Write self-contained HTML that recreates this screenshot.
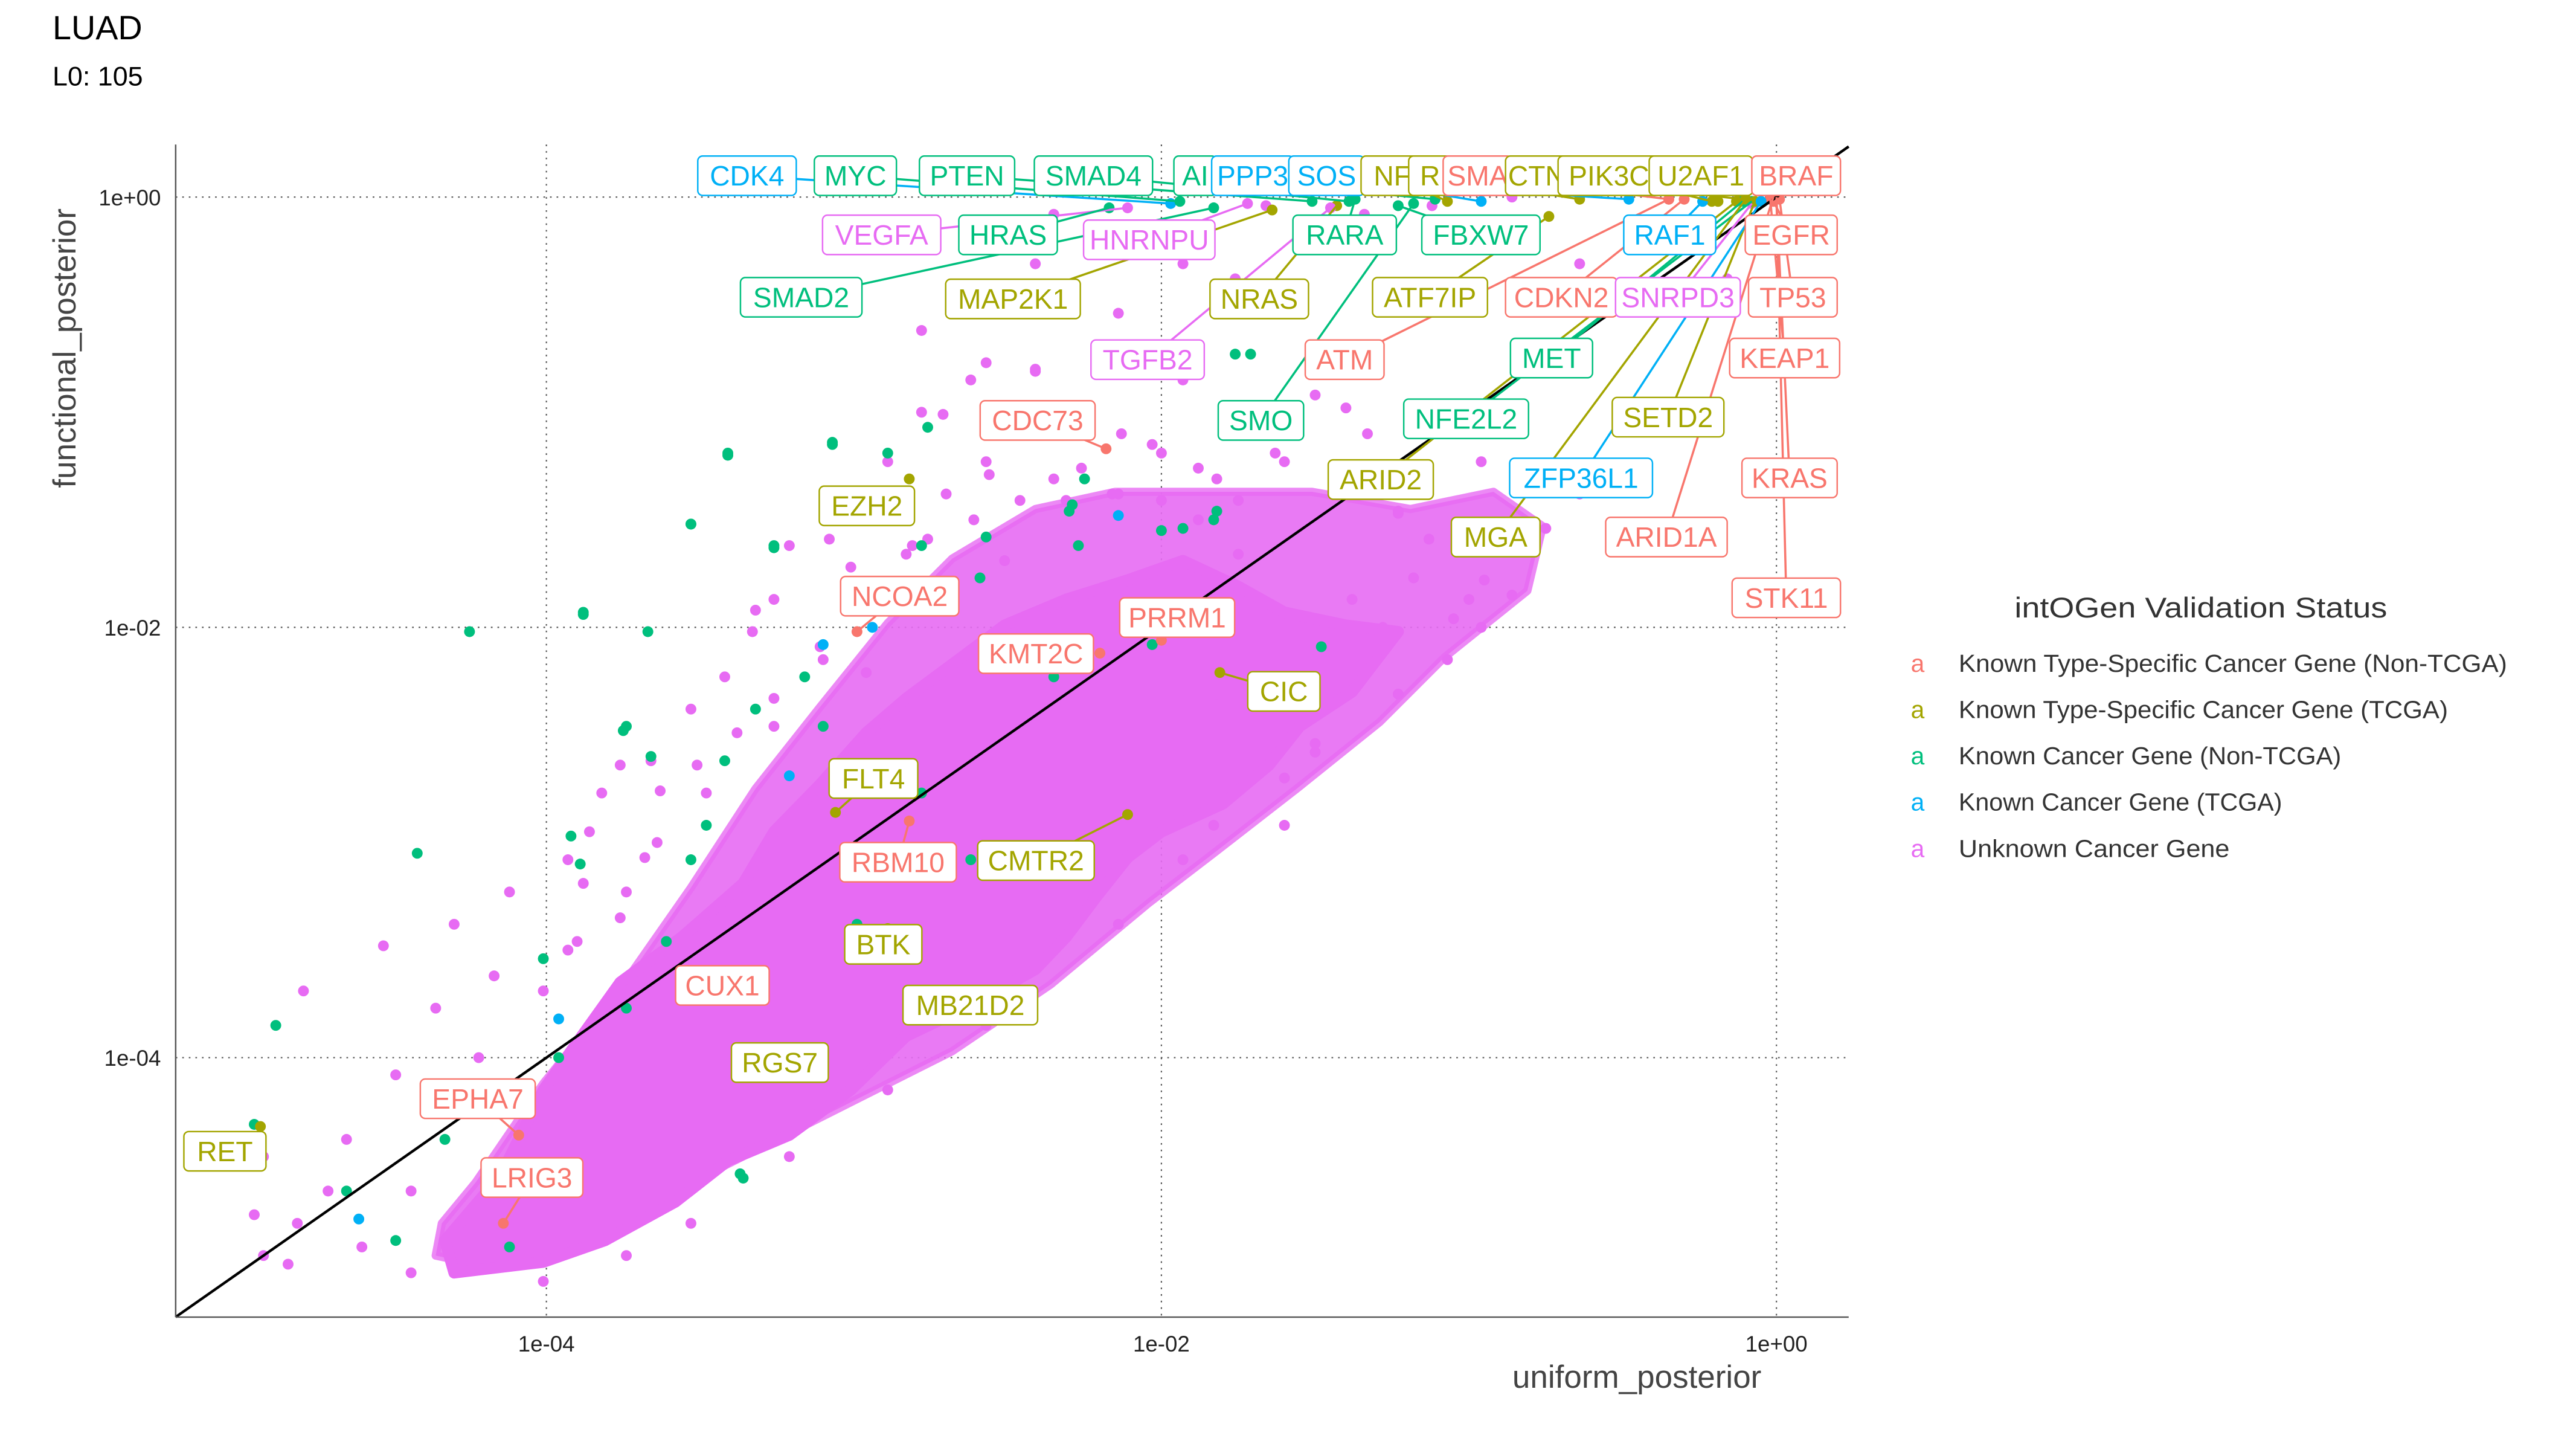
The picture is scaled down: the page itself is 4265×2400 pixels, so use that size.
<!DOCTYPE html>
<html><head><meta charset="utf-8">
<style>
html,body{margin:0;padding:0;background:#fff;}
svg{display:block;}
text{font-family:"Liberation Sans",sans-serif;}
.lg{font-family:"Liberation Sans Narrow","Liberation Sans",sans-serif;}
</style></head>
<body>
<svg id="chart" width="4265" height="2400" viewBox="0 0 1569 882.9" xmlns="http://www.w3.org/2000/svg">
  <rect x="0" y="0" width="1569" height="882.9" fill="#fff"/>
  <text x="32" y="24" font-size="20.5" fill="#000">LUAD</text>
  <text x="32" y="52" font-size="16.5" fill="#000">L0: 105</text>
  <g id="grid"></g>
  <g id="pts"></g>
  <line id="diag" stroke="#000" stroke-width="1.6"/>
  <g id="leaders"></g>
  <g id="labels"></g>
  <line x1="107" y1="88" x2="107" y2="802" stroke="#555" stroke-width="0.9"/>
  <line x1="107" y1="802" x2="1126" y2="802" stroke="#555" stroke-width="0.9"/>
  <g id="ticks"></g>
  <text transform="translate(46,212) rotate(-90)" text-anchor="middle" font-size="19.5" fill="#444" class="lg">functional_posterior</text>
  <text x="997" y="845" text-anchor="middle" font-size="19.5" fill="#444" class="lg">uniform_posterior</text>
  <g id="legend">
    <text x="1227" y="376" font-size="17.5" fill="#333" class="lg" textLength="227" lengthAdjust="spacingAndGlyphs">intOGen Validation Status</text>
  </g>
</svg>
<script>
// ---- data (log10 units) ----
const catColors = ["#F8766D","#A3A500","#00BF7D","#00B0F6","#E76BF3"];
const catNames = ["Known Type-Specific Cancer Gene (Non-TCGA)","Known Type-Specific Cancer Gene (TCGA)","Known Cancer Gene (Non-TCGA)","Known Cancer Gene (TCGA)","Unknown Cancer Gene"];
const xTickVals = [-4,-2,0];
const yTickVals = [0,-2,-4];
const xTickLabels = ["1e-04","1e-02","1e+00"];
const yTickLabels = ["1e+00","1e-02","1e-04"];
// outer (medium density) unknown-gene halo envelope
const haloX = [-4.23,-4.01,-3.75,-3.53,-3.32,-3.11,-2.89,-2.68,-2.41,-2.15,-1.83,-1.51,-1.19,-0.92,-0.76,-0.81,-1.08,-1.29,-1.56,-1.83,-2.04,-2.36,-2.68,-3.00,-3.32,-3.64,-3.96,-4.23,-4.36,-4.34];
const haloY = [-4.58,-4.12,-3.66,-3.21,-2.75,-2.37,-1.98,-1.68,-1.45,-1.37,-1.37,-1.37,-1.45,-1.37,-1.53,-1.83,-2.14,-2.44,-2.75,-3.05,-3.28,-3.66,-3.97,-4.20,-4.43,-4.66,-4.89,-4.96,-4.92,-4.77];
// dense unknown-gene core envelope
const cloudX = [-4.01,-3.76,-3.56,-3.36,-3.26,-3.11,-2.96,-2.83,-2.66,-2.51,-2.31,-2.11,-1.93,-1.75,-1.60,-1.40,-1.23,-1.38,-1.55,-1.65,-1.80,-2.00,-2.11,-2.21,-2.31,-2.41,-2.61,-2.83,-3.01,-3.21,-3.41,-3.58,-3.81,-4.01,-4.30,-4.33,-4.15];
const cloudY = [-4.15,-3.65,-3.44,-3.19,-2.95,-2.73,-2.49,-2.33,-2.15,-1.99,-1.87,-1.78,-1.69,-1.81,-1.93,-1.99,-2.02,-2.30,-2.46,-2.64,-2.82,-2.95,-3.07,-3.25,-3.44,-3.59,-3.75,-3.90,-4.15,-4.36,-4.48,-4.67,-4.85,-4.95,-5.00,-4.85,-4.55];
// unknown (magenta) scattered points
const unkX = [-4.95,-4.92,-4.79,-4.65,-4.53,-4.49,-4.44,-4.36,-4.30,-4.22,-4.17,-4.12,-4.01,-3.93,-3.90,-3.82,-3.74,-3.66,-3.64,-3.53,-3.48,-3.42,-3.32,-3.26,-3.21,-3.10,-3.05,-2.99,-2.89,-2.81,-2.78,-2.70,-2.62,-2.57,-2.51,-2.41,-2.35,-2.25,-2.14,-2.03,-1.93,-1.82,-1.71,-1.60,-1.50,-1.39,-1.23,-1.12,-0.96,-1.18,-1.28,-1.50,-1.82,-4.92,-4.81,-4.71,-4.60,-4.44,-4.84,-2.35,-2.03,-1.93,-1.66,-1.34,-1.12,-0.86,-0.64,-0.43,-0.27,-0.16,-2.41,-2.78,-2.57,-2.14,-1.76,-1.07,-0.86,-0.75,-0.64,-0.96,-1.23,-1.50,-1.60,-1.93,-2.14,-2.57,-2.89,-3.21,-3.53,-3.74,-4.01,
  -2.71,-2.41,-2.26,-2.13,-2.00,-1.88,-1.75,-1.63,-1.40,-1.33,-1.23,-1.13,-0.95,-1.00,-1.05,-1.38,-1.50,-1.30,-1.60,-1.75,-1.88,-2.00,-2.16,-2.31,-2.46,-2.56,-2.61,-2.76,-2.83,-3.01,-3.08,-3.26,-3.33,-3.11,-2.96,-3.26,-3.38,-3.51,-3.63,-3.76,-3.86,-3.68,-3.88,-3.76,-3.93,-1.50,-1.60,-1.83];
const unkY = [-4.73,-4.46,-3.69,-4.38,-3.48,-4.08,-4.62,-3.77,-3.38,-4.00,-3.62,-3.23,-3.69,-3.08,-3.46,-2.77,-3.23,-2.62,-3.00,-2.38,-2.77,-2.23,-1.92,-2.46,-1.62,-2.15,-1.38,-1.85,-1.23,-1.62,-1.00,-1.38,-0.85,-1.23,-1.69,-0.81,-1.31,-1.00,-1.38,-1.15,-0.85,-1.31,-1.00,-1.23,-0.92,-1.31,-1.46,-1.08,-1.23,-1.77,-2.00,-2.15,-2.31,-4.92,-4.77,-4.62,-4.88,-5.00,-4.96,-0.08,-0.23,-0.31,-0.04,-0.08,-0.04,0.00,-0.31,-0.15,-0.23,-0.38,-0.31,-0.62,-0.77,-0.54,-0.38,-2.15,-1.85,-1.54,-1.38,-2.00,-2.31,-2.54,-2.92,-3.08,-3.38,-3.85,-4.15,-4.46,-4.77,-4.92,-5.04,
  -1.01,-0.80,-1.26,-1.10,-1.19,-1.26,-1.41,-1.19,-0.98,-1.10,-1.47,-1.59,-1.78,-1.87,-1.96,-1.87,-2.09,-2.12,-2.21,-1.66,-1.50,-1.41,-1.38,-1.41,-1.41,-1.29,-1.50,-1.59,-1.66,-1.72,-1.59,-1.87,-2.02,-2.09,-2.21,-2.33,-2.49,-2.64,-2.76,-2.64,-2.95,-3.07,-3.19,-3.35,-3.50,-2.58,-2.70,-2.92];
// known cancer gene (non-TCGA, green) points
const grnX = [-4.88,-4.95,-4.42,-4.25,-3.88,-3.74,-4.17,-4.33,-4.49,-4.65,-4.01,-3.96,-3.74,-3.61,-3.53,-3.48,-3.42,-3.32,-3.26,-3.16,-3.10,-3.53,-3.41,-3.07,-2.89,-2.78,-2.59,-2.57,-2.30,-2.27,-2.25,-1.93,-1.82,-3.37,-4.12,-2.03,-1.76,-1.71,-2.35,-2.78,-2.99,-2.62,
  -3.41,-3.07,-2.76,-3.53,-3.26,-3.88,-3.67,-3.75,-3.66,-3.92,-3.89,-3.36,-1.48,-2.00,-2.29,-1.83];
const grnY = [-3.85,-4.31,-3.05,-2.02,-1.94,-2.46,-4.15,-4.38,-4.85,-4.62,-3.54,-4.00,-3.77,-3.46,-3.08,-2.92,-2.62,-2.38,-1.62,-2.23,-2.46,-1.52,-1.20,-1.14,-1.19,-1.62,-1.77,-1.58,-1.46,-1.62,-1.31,-1.54,-1.46,-4.54,-4.88,-2.08,-0.73,-0.73,-2.23,-2.77,-3.38,-3.08,
  -1.19,-1.15,-1.07,-1.52,-1.63,-1.93,-2.02,-2.48,-2.60,-2.97,-3.10,-4.56,-2.09,-1.55,-1.43,-1.50];
// known cancer gene (TCGA, blue) points
const bluX = [-4.61,-3.96,-3.21,-3.10,-2.14,-2.94];
const bluY = [-4.75,-3.82,-2.69,-2.08,-1.48,-2.00];
// labelled genes
const geneNames = ["CDK4","MYC","PTEN","SMAD4","AI","PPP3","SOS","NF","R","SMA","CTN","PIK3C","U2AF1","BRAF","VEGFA","HRAS","HNRNPU","RARA","FBXW7","RAF1","EGFR","SMAD2","MAP2K1","NRAS","ATF7IP","CDKN2","SNRPD3","TP53","TGFB2","ATM","MET","KEAP1","CDC73","SMO","NFE2L2","SETD2","EZH2","ARID2","ZFP36L1","KRAS","MGA","ARID1A","NCOA2","STK11","PRRM1","KMT2C","CIC","FLT4","RBM10","CMTR2","BTK","CUX1","MB21D2","RGS7","EPHA7","RET","LRIG3"];
const geneCat = [3,2,2,2,2,3,3,1,1,0,1,1,1,0,4,2,4,2,2,3,0,2,1,1,1,0,4,0,4,0,2,0,0,2,2,1,1,1,3,0,1,0,0,0,0,0,1,1,0,1,1,0,1,1,0,1,0];
const geneX = [-1.97,-1.94,-1.51,-1.39,-1.11,-0.48,-0.96,-1.07,-0.64,-0.35,-0.11,-0.21,-0.19,0.00,-2.11,-2.17,-1.72,-1.37,-1.23,-0.24,-0.01,-1.83,-1.64,-1.43,-0.74,-0.30,-0.08,0.01,-1.45,-0.35,-0.11,-0.02,-2.18,-1.18,-0.08,-0.07,-2.82,-0.13,-0.05,0.00,-0.10,-0.01,-2.99,0.00,-2.00,-2.20,-1.81,-3.06,-2.82,-2.11,-2.89,-3.54,-2.77,-3.19,-4.09,-4.93,-4.14];
const geneY = [-0.03,-0.02,-0.02,-0.02,-0.01,-0.01,-0.02,-0.02,-0.01,-0.01,-0.01,-0.02,-0.02,0.00,-0.05,-0.05,-0.03,-0.01,-0.04,-0.02,-0.02,-0.05,-0.06,-0.04,-0.09,-0.01,-0.03,-0.01,-0.05,-0.01,-0.02,-0.01,-1.17,-0.03,-0.02,-0.02,-1.31,-0.02,-0.02,0.00,-0.01,0.00,-2.02,-0.01,-2.06,-2.12,-2.21,-2.86,-2.90,-2.87,-3.40,-3.63,-3.78,-4.02,-4.36,-4.32,-4.77];
// label box layout (display units): center x, center y, width
const labCX = [455,521,589,666,728,763,808,848,871,900,936,980,1036,1094,537,614,700,819,902,1017,1091,488,617,767,871,951,1022,1092,699,819,945,1087,632,768,893,1016,528,841,963,1090,911,1015,548,1088,717,631,782,532,547,631,538,440,591,475,291,137,324];
const labCY = [107,107,107,107,107,107,107,107,107,107,107,107,107,107,143,143,146,143,143,143,143,181,182,182,181,181,181,181,219,219,218,218,256,256,255,254,308,292,291,291,327,327,363,364,376,398,421,474,525,524,575,600,612,647,669,701,717];
const labW = [60,50,58,72,26,50,46,38,26,42,38,62,63,54,72,60,80,63,72,56,56,74,82,60,70,68,76,54,69,48,50,67,70,52,76,68,58,64,87,58,54,74,72,66,70,70,44,54,71,71,47,57,82,59,70,50,62];

// ---- scales ----
const X0 = 1082, XK = 187.3, Y0 = 120, YK = 131;
function sx(v){ return X0 + XK * v; }
function sy(v){ return Y0 - YK * v; }
const NS = "http://www.w3.org/2000/svg";
function mk(tag, parent){ const e = document.createElementNS(NS, tag); parent.appendChild(e); return e; }

// grid + ticks
const grid = document.getElementById('grid');
const ticks = document.getElementById('ticks');
xTickVals.forEach((v,i)=>{
  const l = mk('line', grid);
  
  
  l.setAttribute('x1', sx(v)); l.setAttribute('x2', sx(v)); l.setAttribute('y1', 88); l.setAttribute('y2', 802);
  l.setAttribute('stroke', '#555'); l.setAttribute('stroke-width', '0.8'); l.setAttribute('stroke-dasharray', '1 3');
  const t = mk('text', ticks);
  
  
  t.setAttribute('x', sx(v)); t.setAttribute('y', 823); t.setAttribute('text-anchor', 'middle');
  t.setAttribute('font-size', '13.5'); t.setAttribute('fill', '#222'); t.setAttribute('class','lg');
  t.textContent = xTickLabels[i];
});
yTickVals.forEach((v,i)=>{
  const l = mk('line', grid);
  
  
  l.setAttribute('x1', 107); l.setAttribute('x2', 1126); l.setAttribute('y1', sy(v)); l.setAttribute('y2', sy(v));
  l.setAttribute('stroke', '#555'); l.setAttribute('stroke-width', '0.8'); l.setAttribute('stroke-dasharray', '1 3');
  const t = mk('text', ticks);
  
  
  t.setAttribute('x', 98); t.setAttribute('y', sy(v)+5); t.setAttribute('text-anchor', 'end');
  t.setAttribute('font-size', '13.5'); t.setAttribute('fill', '#222'); t.setAttribute('class','lg');
  t.textContent = yTickLabels[i];
});

// points
const pts = document.getElementById('pts');
const halo = mk('polygon', pts);


halo.setAttribute('points', haloX.map((v,i)=>sx(v)+','+sy(haloY[i])).join(' '));
halo.setAttribute('fill', catColors[4]); halo.setAttribute('fill-opacity', '0.9');
halo.setAttribute('stroke', catColors[4]); halo.setAttribute('stroke-opacity', '0.8');
halo.setAttribute('stroke-width', '5'); halo.setAttribute('stroke-linejoin', 'round');
const cloud = mk('polygon', pts);


cloud.setAttribute('points', cloudX.map((v,i)=>sx(v)+','+sy(cloudY[i])).join(' '));
cloud.setAttribute('fill', catColors[4]); cloud.setAttribute('stroke', catColors[4]);
cloud.setAttribute('stroke-width', '7'); cloud.setAttribute('stroke-linejoin', 'round');
function dot(x, y, c, name){
  const d = mk('circle', pts);
  
  
  d.setAttribute('cx', sx(x)); d.setAttribute('cy', sy(y)); d.setAttribute('r', 3.3);
  d.setAttribute('fill', c);
}
unkX.forEach((v,i)=>dot(v, unkY[i], catColors[4], 'unknown-gene-point'));
grnX.forEach((v,i)=>dot(v, grnY[i], catColors[2], 'known-gene-point'));
bluX.forEach((v,i)=>dot(v, bluY[i], catColors[3], 'known-tcga-gene-point'));
geneX.forEach((v,i)=>dot(v, geneY[i], catColors[geneCat[i]], 'labelled-gene-point'));

// identity line
const diag = document.getElementById('diag');
const dlo = (107 - X0)/XK, dhi = (1126 - X0)/XK;
diag.setAttribute('x1', sx(dlo)); diag.setAttribute('y1', sy(dlo));
diag.setAttribute('x2', sx(dhi)); diag.setAttribute('y2', sy(dhi));

// labels
const leaders = document.getElementById('leaders');
const labels = document.getElementById('labels');
geneNames.forEach((name,i)=>{
  const c = catColors[geneCat[i]];
  const px = sx(geneX[i]), py = sy(geneY[i]);
  const cx = labCX[i], cy = labCY[i], w = labW[i], h = 24;
  const outside = px < cx - w/2 - 6 || px > cx + w/2 + 6 || py < cy - h/2 - 6 || py > cy + h/2 + 6;
  if (outside) {
    const ln = mk('line', leaders);
    
    
    ln.setAttribute('x1', cx); ln.setAttribute('y1', cy); ln.setAttribute('x2', px); ln.setAttribute('y2', py);
    ln.setAttribute('stroke', c); ln.setAttribute('stroke-width', '1.3');
  }
  const g = mk('g', labels);
  
  
  const r = mk('rect', g);
  
  
  r.setAttribute('x', cx - w/2); r.setAttribute('y', cy - h/2); r.setAttribute('width', w); r.setAttribute('height', h);
  r.setAttribute('rx', 3); r.setAttribute('fill', '#fff'); r.setAttribute('stroke', c); r.setAttribute('stroke-width', '0.9');
  const t = mk('text', g);
  
  
  t.setAttribute('x', cx); t.setAttribute('y', cy + 6); t.setAttribute('text-anchor', 'middle');
  t.setAttribute('font-size', '17'); t.setAttribute('fill', c);
  t.textContent = name;
});

// legend
const legend = document.getElementById('legend');
const legLens = [334,298,233,197,165];
catNames.forEach((n,i)=>{
  const y = 409 + i*28.2;
  const a = mk('text', legend);
  
  
  a.setAttribute('x', 1168); a.setAttribute('y', y); a.setAttribute('text-anchor', 'middle');
  a.setAttribute('font-size', '15'); a.setAttribute('fill', catColors[i]);
  a.textContent = 'a';
  const t = mk('text', legend);
  
  
  t.setAttribute('x', 1193); t.setAttribute('y', y);
  t.setAttribute('font-size', '15'); t.setAttribute('fill', '#333'); t.setAttribute('class','lg');
  t.setAttribute('textLength', legLens[i]); t.setAttribute('lengthAdjust', 'spacingAndGlyphs');
  t.textContent = n;
});
</script>
</body></html>
